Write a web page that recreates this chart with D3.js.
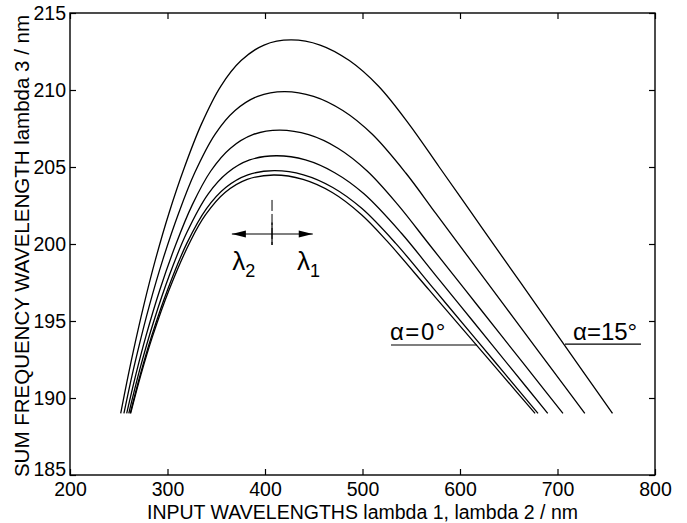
<!DOCTYPE html>
<html><head><meta charset="utf-8">
<script src="https://cdn.jsdelivr.net/npm/d3@7"></script>
<style>
body{margin:0;background:#fff}
svg{display:block}
text{font-family:"Liberation Sans",Arial,Helvetica,sans-serif;fill:#000}
</style>
</head><body>
<svg id="chart" width="687" height="523"></svg>
<script>
// ---- data ----
const xTicks = [200, 300, 400, 500, 600, 700, 800];
const yTicks = [185, 190, 195, 200, 205, 210, 215];
// one list per curve, from alpha = 0 deg (narrowest) to alpha = 15 deg (widest)
// lambda 3 (sum frequency) values, rising from 189 nm to the curve maximum
const lambda3 = [
  [189, 191.5, 194, 197, 200.2, 201.9, 203.34, 204.19, 204.48],
  [189, 191.5, 194, 197, 200.04, 202.30, 203.67, 204.49, 204.76],
  [189, 192, 195, 198, 200.73, 203.26, 204.63, 205.46, 205.73],
  [189, 191.5, 194, 197, 200, 202.54, 204.74, 206.22, 207.10, 207.4],
  [189, 191, 193, 196, 199, 202, 204.61, 207.14, 208.67, 209.59, 209.9],
  [189, 191, 193, 196, 199, 202, 205, 207.8, 210.24, 211.91, 212.92, 213.25]
];
// lambda 1 branch (right side)
const lambda1 = [
  [677.0, 643.1, 609.2, 568.5, 525.0, 499.0, 469.0, 439.0, 409.0],
  [680.0, 647.0, 613.9, 574.3, 534.1, 499.5, 469.5, 439.5, 409.5],
  [690.0, 651.5, 613.1, 574.6, 539.5, 501.5, 471.5, 441.5, 411.5],
  [705.6, 674.35, 643.1, 605.6, 568.1, 536.4, 504.8, 474.8, 444.8, 414.8],
  [728.0, 704.5, 680.9, 645.6, 610.3, 575.0, 544.4, 509.8, 479.8, 449.8, 419.8],
  [756.4, 734.2, 712.0, 678.7, 645.3, 612.0, 578.7, 547.5, 516.5, 486.5, 456.5, 426.5]
];
// lambda 2 branch (left side)
const lambda2 = [
  [262.2, 272.7, 284.65, 301.5, 323.6, 339.1, 359.0, 381.75, 409.0],
  [261.75, 272.0, 283.6, 299.9, 319.8, 340.0, 359.7, 382.4, 409.5],
  [260.3, 272.2, 286.0, 302.1, 319.7, 341.8, 361.5, 384.3, 411.5],
  [258.15, 267.45, 277.8, 292.0, 308.7, 325.4, 344.4, 364.6, 387.5, 414.8],
  [255.3, 262.0, 269.3, 281.4, 295.3, 311.4, 327.8, 348.9, 369.3, 392.5, 419.8],
  [252.0, 258.2, 264.8, 275.6, 287.7, 301.5, 317.5, 334.9, 354.6, 375.5, 399.0, 426.5]
];
const angleLabels = ["\u03b1=0\u00b0", "\u03b1=15\u00b0"];
const xTitle = "INPUT WAVELENGTHS lambda 1, lambda 2 / nm";
const yTitle = "SUM FREQUENCY WAVELENGTH lambda 3 / nm";

// ---- layout ----
const svg = d3.select("#chart");
const W = 687, H = 523;
const L = 70, R = 655, T = 13, B = 475;
svg.append("rect").attr("width", W).attr("height", H).attr("fill", "#fff");

const x = d3.scaleLinear().domain([200, 800]).range([L, R]);
const y = d3.scaleLinear().domain([185, 215]).range([B, T]);

const fs = 19.5;
const tick = 6;

// axes
const gB = svg.append("g").attr("transform", `translate(0,${B})`)
  .call(d3.axisBottom(x).tickValues(xTicks).tickSize(-tick).tickPadding(7).tickFormat(d3.format("d")));
const gL = svg.append("g").attr("transform", `translate(${L},0)`)
  .call(d3.axisLeft(y).tickValues(yTicks).tickSize(-tick).tickPadding(4).tickFormat(d3.format("d")));
const gT = svg.append("g").attr("transform", `translate(0,${T})`)
  .call(d3.axisTop(x).tickValues(xTicks).tickSize(-tick).tickFormat(""));
const gR = svg.append("g").attr("transform", `translate(${R},0)`)
  .call(d3.axisRight(y).tickValues(yTicks).tickSize(-tick).tickFormat(""));
[gB, gL, gT, gR].forEach(g => {
  g.select(".domain").remove();
  g.selectAll("line").attr("stroke", "#000").attr("stroke-width", 1.2);
  g.selectAll("text").attr("font-size", fs).attr("fill", "#000")
    .style("font-family", '"Liberation Sans",Arial,sans-serif');
});
// lowest y label sits just above the first x label, as in the reference
gL.selectAll(".tick").filter(d => d === 185).select("text").attr("dy", "0.05em");

svg.append("rect").attr("x", L).attr("y", T).attr("width", R - L).attr("height", B - T)
  .attr("fill", "none").attr("stroke", "#000").attr("stroke-width", 1.4);

// titles
svg.append("text").attr("x", (L + R) / 2).attr("y", 518.5).attr("text-anchor", "middle")
  .attr("font-size", fs).text(xTitle);
svg.append("text").attr("transform", `translate(28.5,${(T + B) / 2 + 2}) rotate(-90)`)
  .attr("text-anchor", "middle").attr("font-size", 20.5).text(yTitle);

// curves
const line = d3.line().x(d => x(d[0])).y(d => y(d[1])).curve(d3.curveCatmullRom.alpha(0.5));
lambda3.forEach((l3, i) => {
  const pts = [];
  l3.forEach((v, j) => pts.push([lambda2[i][j], v]));
  for (let j = l3.length - 2; j >= 0; j--) pts.push([lambda1[i][j], l3[j]]);
  svg.append("path").attr("d", line(pts)).attr("fill", "none")
    .attr("stroke", "#000").attr("stroke-width", 1.3);
});

// annotation: degenerate point marker and arrows
const arrowLevel = 200.65, arrowFrom = 366, arrowTo = 449, markX = 407.2;
const ay = y(arrowLevel);
svg.append("line").attr("x1", x(markX)).attr("x2", x(markX))
  .attr("y1", y(202.86)).attr("y2", y(199.94))
  .attr("stroke", "#000").attr("stroke-width", 1).attr("stroke-dasharray", "11,3");
svg.append("line").attr("x1", x(markX)).attr("x2", x(markX))
  .attr("y1", y(201.4)).attr("y2", y(199.94)).attr("stroke", "#000").attr("stroke-width", 1.2);
svg.append("line").attr("x1", x(arrowFrom)).attr("x2", x(arrowTo)).attr("y1", ay).attr("y2", ay)
  .attr("stroke", "#000").attr("stroke-width", 1.2);
const ah = 14, aw = 3.5;
svg.append("path").attr("d", `M${x(arrowFrom)},${ay}L${x(arrowFrom) + ah},${ay - aw}L${x(arrowFrom) + ah},${ay + aw}Z`).attr("fill", "#000");
svg.append("path").attr("d", `M${x(arrowTo)},${ay}L${x(arrowTo) - ah},${ay - aw}L${x(arrowTo) - ah},${ay + aw}Z`).attr("fill", "#000");

function lam(xv, sub) {
  const t = svg.append("text").attr("x", x(xv)).attr("y", y(198.31)).attr("font-size", 26);
  t.append("tspan").text("\u03bb");
  t.append("tspan").attr("font-size", 18).attr("dy", 7).text(sub);
}
lam(366.5, "2");
lam(432.8, "1");

// alpha labels with underline
svg.append("text").attr("x", x(528.2)).attr("y", y(193.77)).attr("font-size", 24)
  .attr("letter-spacing", 1.5).text(angleLabels[0]);
svg.append("line").attr("x1", x(529.2)).attr("x2", x(617.4)).attr("y1", y(193.44)).attr("y2", y(193.44))
  .attr("stroke", "#000").attr("stroke-width", 1.2);
svg.append("text").attr("x", x(715.9)).attr("y", y(193.77)).attr("font-size", 24).text(angleLabels[1]);
svg.append("line").attr("x1", x(707.7)).attr("x2", x(785.6)).attr("y1", y(193.5)).attr("y2", y(193.5))
  .attr("stroke", "#000").attr("stroke-width", 1.2);
</script>
</body></html>
